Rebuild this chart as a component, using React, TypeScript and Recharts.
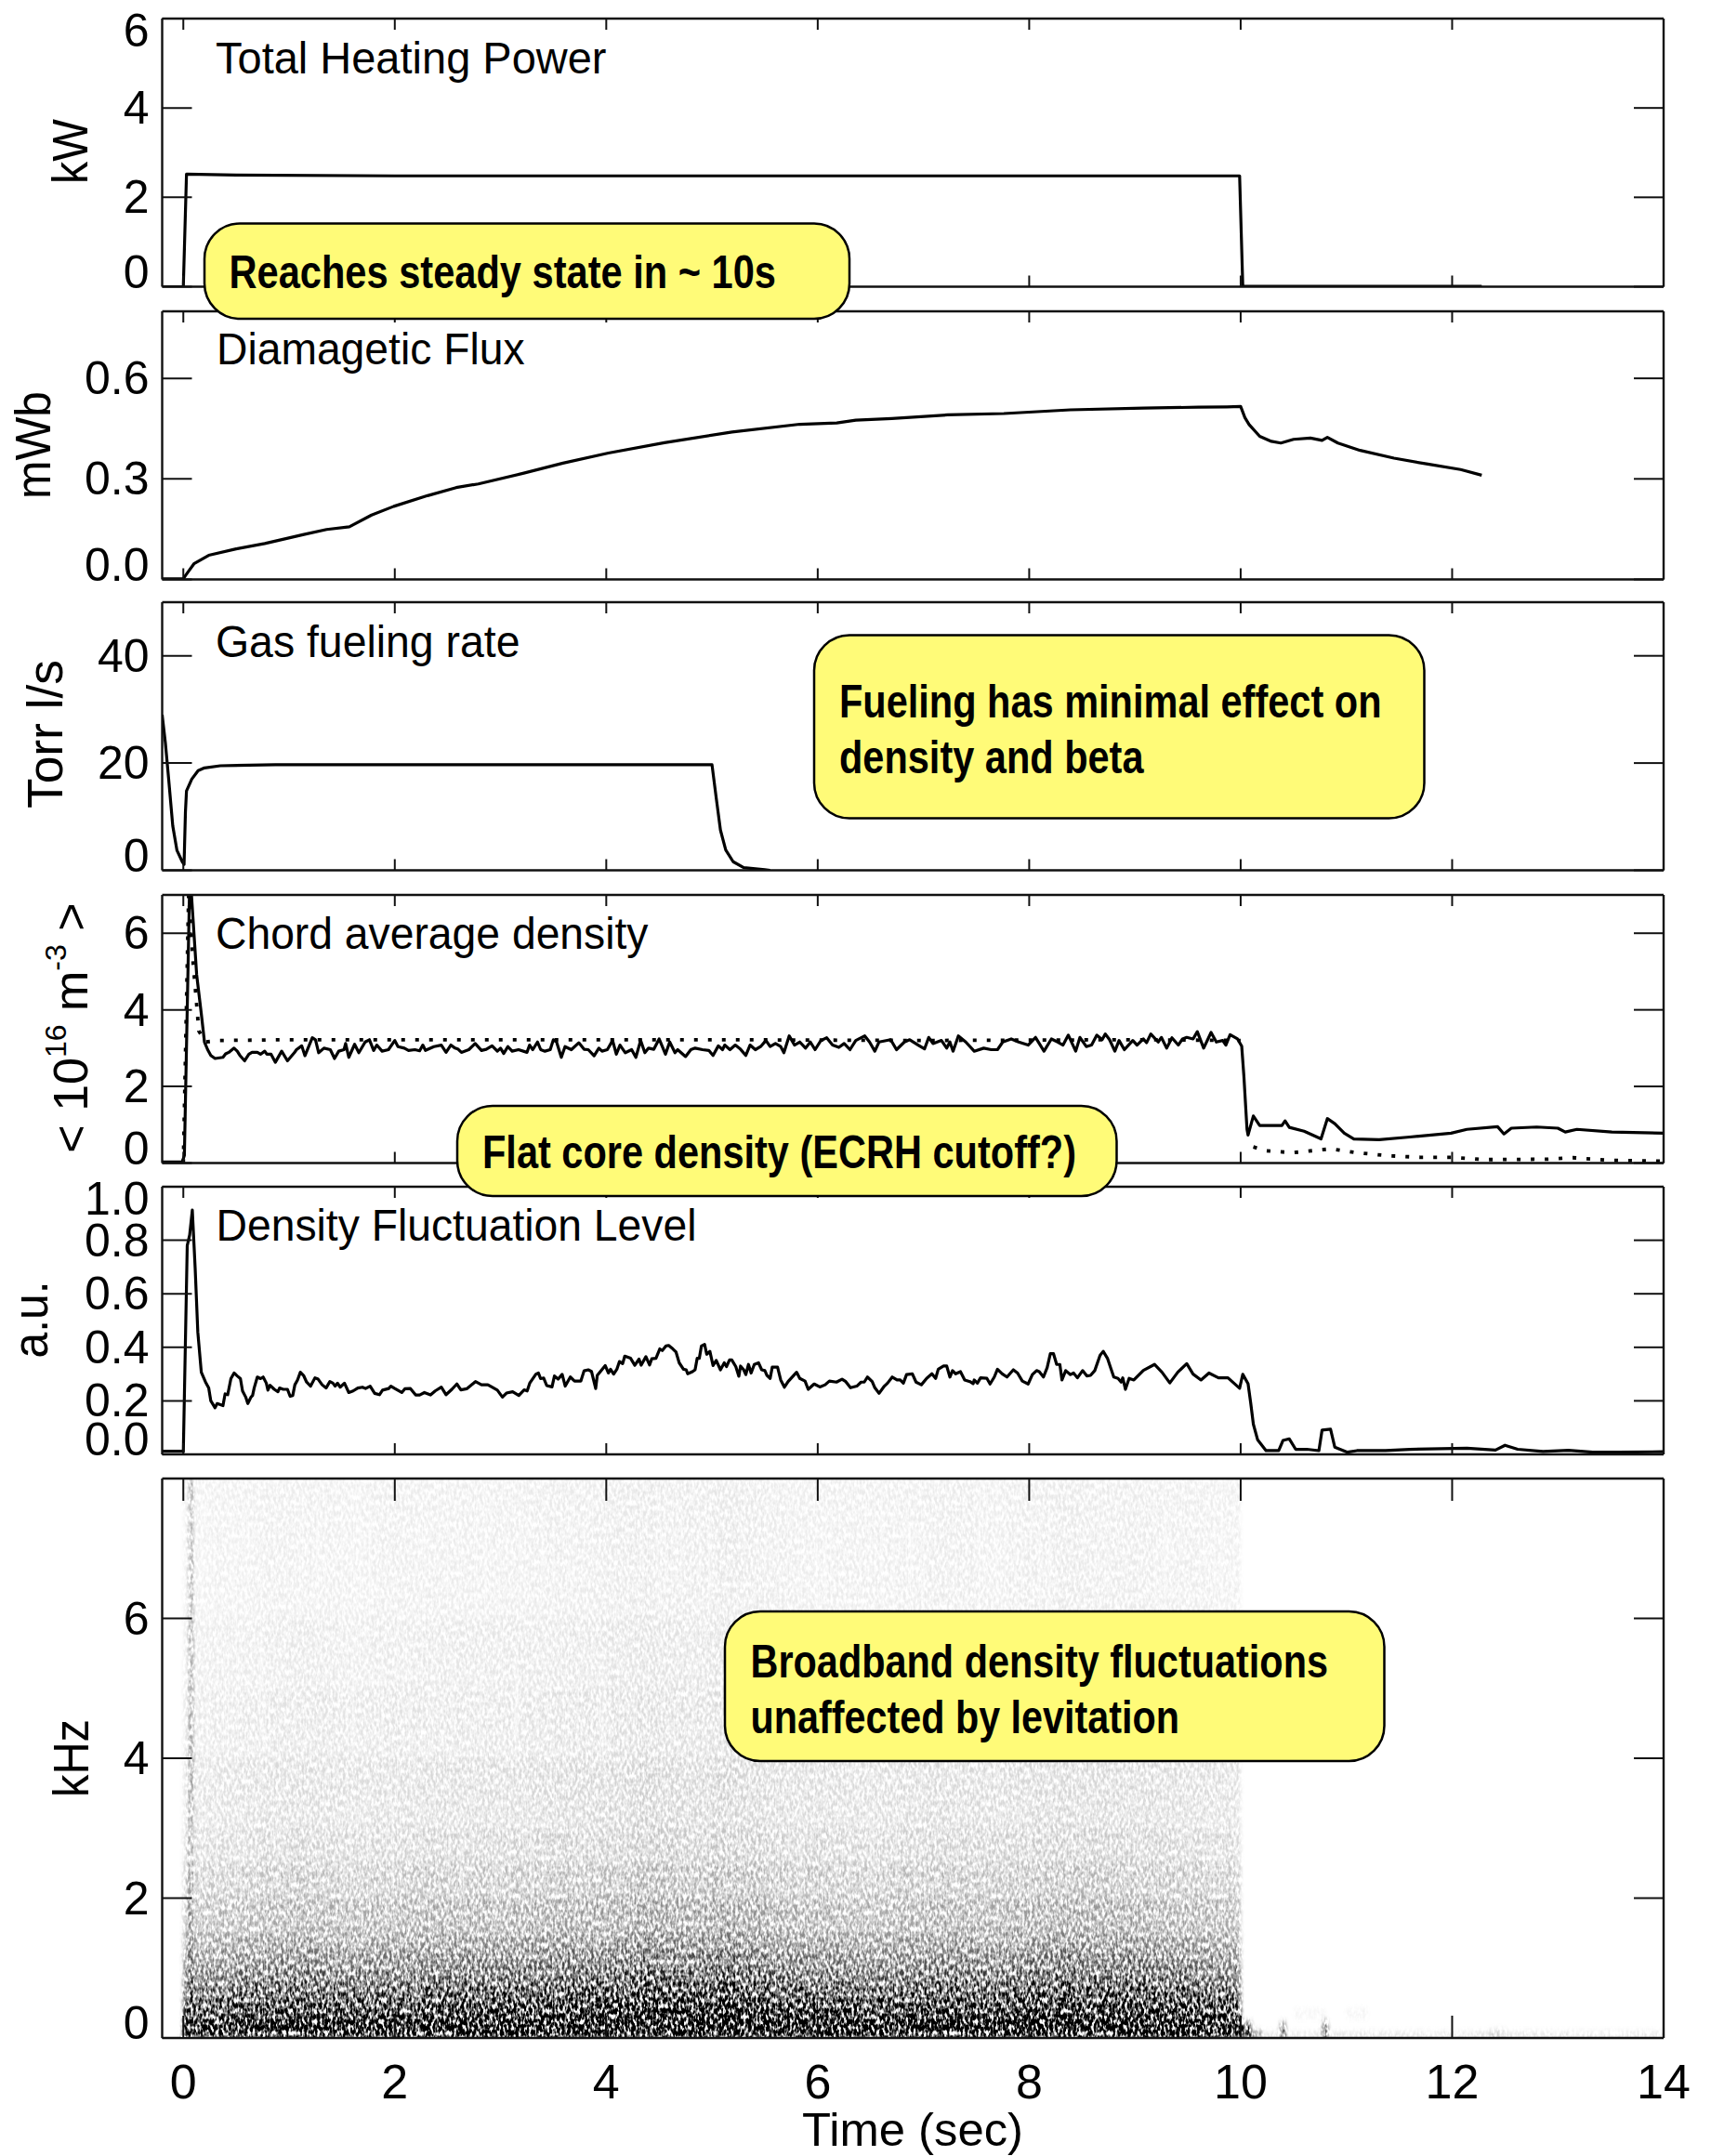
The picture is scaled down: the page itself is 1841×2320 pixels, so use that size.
import React from "react";
import { ComposedChart, Line, XAxis, YAxis, ReferenceArea } from "recharts";

const FONT = '"Liberation Sans", Arial, Helvetica, sans-serif';
const INK = "#111";

const timeTicks = [0, 2, 4, 6, 8, 10, 12, 14];
const timeDomain = [-0.2, 14];

// Total heating power (kW)
const heatingPower = [[-0.2, 0], [0, 0], [0.03, 2.52], [0.5, 2.5], [2, 2.48], [6, 2.48], [9.99, 2.48], [10.02, 0.01], [12.28, 0.01]];

// Diamagnetic flux (mWb)
const diamagneticFlux = [[-0.2, 0.002], [0, 0.002], [0.02, 0.0115], [0.1, 0.0465], [0.24, 0.072], [0.5, 0.091], [0.77, 0.107], [1.14, 0.134], [1.355, 0.149], [1.57, 0.157], [1.78, 0.192], [1.99, 0.218], [2.31, 0.25], [2.58, 0.274], [2.79, 0.285], [3.22, 0.317], [3.59, 0.347], [4.02, 0.377], [4.55, 0.408], [5.19, 0.44], [5.83, 0.463], [6.18, 0.467], [6.36, 0.475], [6.7, 0.48], [7.23, 0.491], [7.76, 0.495], [8.39, 0.506], [9.08, 0.511], [9.6, 0.514], [9.87, 0.515], [10, 0.516], [10.04, 0.483], [10.08, 0.462], [10.18, 0.427], [10.29, 0.412], [10.38, 0.407], [10.5, 0.418], [10.66, 0.422], [10.77, 0.415], [10.82, 0.424], [10.92, 0.407], [11.13, 0.385], [11.45, 0.362], [11.77, 0.344], [12.08, 0.328], [12.28, 0.311]];

// Gas fueling rate (Torr l/s)
const gasFueling = [[-0.2, 29], [-0.17, 23.8], [-0.14, 17.3], [-0.1, 8.3], [-0.06, 3.7], [-0.01, 1.6], [0.007, 1.1], [0.02, 10.9], [0.03, 14.8], [0.08, 17], [0.14, 18.6], [0.2, 19.1], [0.35, 19.5], [0.87, 19.7], [5, 19.7], [5.04, 13.5], [5.08, 7.5], [5.13, 3.8], [5.2, 1.6], [5.3, 0.5], [5.5, 0.1], [5.55, 0]];

// Chord average density, solid trace
const chordDensity = [[-0.2, 0.03], [-0.01, 0.03], [0.01, 0.2], [0.06, 7.3], [0.07, 7.3], [0.126, 4.92], [0.17, 3.9], [0.2, 3.16], [0.23, 2.96], [0.26, 2.81], [0.3, 2.73], [0.375, 2.76], [0.4, 2.85], [0.43, 2.89], [0.48, 3], [0.51, 2.92], [0.535, 2.81], [0.58, 2.67], [0.62, 2.84], [0.65, 2.89], [0.7, 2.89], [0.73, 2.84], [0.77, 2.92], [0.79, 2.84], [0.83, 2.84], [0.87, 2.63], [0.93, 2.92], [0.985, 2.67], [1.05, 2.88], [1.07, 2.96], [1.12, 3.06], [1.15, 2.8], [1.22, 3.27], [1.25, 3.22], [1.28, 2.88], [1.33, 3], [1.39, 2.96], [1.43, 2.73], [1.47, 2.92], [1.52, 2.96], [1.535, 3.12], [1.565, 2.76], [1.62, 3.1], [1.66, 2.88], [1.72, 3.16], [1.76, 3.22], [1.8, 2.94], [1.83, 3.08], [1.88, 2.92], [1.94, 2.96], [2, 3.2], [2.03, 3.04], [2.09, 3], [2.13, 2.94], [2.19, 2.96], [2.235, 2.93], [2.265, 3.08], [2.29, 2.94], [2.37, 3.04], [2.44, 3.08], [2.485, 2.89], [2.53, 3.08], [2.57, 3], [2.6, 2.97], [2.63, 2.89], [2.7, 2.96], [2.76, 3.12], [2.82, 2.94], [2.865, 2.97], [2.92, 3.06], [2.97, 2.92], [3, 3], [3.03, 2.86], [3.07, 3.04], [3.11, 2.92], [3.17, 2.96], [3.25, 2.89], [3.275, 3.08], [3.305, 2.96], [3.35, 3.16], [3.38, 2.96], [3.42, 2.92], [3.47, 2.96], [3.5, 3.22], [3.53, 3.16], [3.575, 2.76], [3.61, 3.04], [3.67, 2.96], [3.74, 3.14], [3.79, 2.97], [3.83, 2.96], [3.885, 2.8], [3.93, 3], [3.96, 2.92], [4.01, 2.96], [4.06, 3.2], [4.095, 2.84], [4.13, 3.08], [4.18, 2.88], [4.24, 2.96], [4.28, 2.76], [4.325, 3.2], [4.365, 2.88], [4.4, 3], [4.45, 2.97], [4.5, 3.24], [4.56, 2.84], [4.6, 3.16], [4.65, 2.88], [4.675, 2.96], [4.75, 2.78], [4.8, 2.96], [4.84, 3], [4.91, 2.96], [4.97, 2.94], [5.01, 2.81], [5.06, 3.06], [5.1, 2.96], [5.12, 3.08], [5.17, 2.96], [5.22, 3.08], [5.27, 2.97], [5.32, 2.81], [5.36, 3.08], [5.41, 2.96], [5.46, 3.04], [5.51, 3.2], [5.55, 3.04], [5.6, 3.12], [5.65, 3.04], [5.68, 2.88], [5.73, 3.32], [5.78, 3.08], [5.83, 3.16], [5.885, 3], [5.93, 3.16], [5.975, 2.96], [6.03, 3.2], [6.085, 3.27], [6.14, 3.08], [6.2, 3.02], [6.25, 3.12], [6.305, 2.96], [6.36, 3.2], [6.445, 3.32], [6.49, 3.16], [6.54, 2.92], [6.58, 3.16], [6.69, 3.22], [6.745, 2.96], [6.82, 3.16], [6.87, 3.22], [6.95, 3.08], [7.01, 2.98], [7.05, 3.28], [7.09, 3.12], [7.17, 3.2], [7.22, 3], [7.25, 3.16], [7.28, 2.92], [7.33, 3.32], [7.4, 3.16], [7.48, 2.92], [7.57, 3], [7.64, 2.96], [7.7, 2.96], [7.75, 3.16], [7.83, 3.24], [7.9, 3.16], [7.99, 3.08], [8.06, 3.28], [8.14, 2.92], [8.21, 3.24], [8.27, 3.16], [8.32, 3.08], [8.37, 3.34], [8.44, 2.92], [8.48, 3.28], [8.54, 3.04], [8.59, 3.08], [8.64, 3.34], [8.69, 3.22], [8.72, 3.37], [8.76, 3.22], [8.81, 2.92], [8.85, 3.2], [8.9, 2.96], [8.98, 3.2], [9.02, 3.08], [9.08, 3.24], [9.11, 3.14], [9.15, 3.37], [9.22, 3.16], [9.25, 3.28], [9.3, 3], [9.35, 3.27], [9.41, 3.08], [9.45, 3.24], [9.49, 3.28], [9.55, 3.24], [9.59, 3.43], [9.65, 3], [9.72, 3.41], [9.77, 3.16], [9.83, 3.2], [9.86, 3.08], [9.9, 3.35], [9.97, 3.24], [10.01, 3.05], [10.03, 2.29], [10.06, 0.88], [10.07, 0.73], [10.12, 1.23], [10.18, 0.98], [10.39, 0.98], [10.42, 1.1], [10.46, 0.93], [10.6, 0.83], [10.76, 0.63], [10.82, 1.16], [10.89, 1.03], [10.98, 0.78], [11.07, 0.63], [11.31, 0.61], [11.6, 0.68], [11.99, 0.78], [12.14, 0.88], [12.43, 0.95], [12.49, 0.76], [12.56, 0.91], [12.8, 0.94], [13, 0.91], [13.07, 0.81], [13.18, 0.88], [13.51, 0.81], [14, 0.78]];

// Chord average density, dotted trace (null leaves the gap at the drop)
const chordDensityDotted = [[0, 0], [0.05, 7], [0.09, 5.32], [0.135, 3.84], [0.146, 3.45], [0.21, 3.16], [0.345, 3.2], [1, 3.22], [3, 3.22], [5, 3.22], [7, 3.2], [9, 3.22], [10, 3.2], [10.05, null], [10.12, 0.42], [10.24, 0.32], [10.49, 0.27], [10.85, 0.37], [11.1, 0.27], [11.4, 0.19], [11.7, 0.15], [12, 0.15], [12.3, 0.09], [12.9, 0.1], [13.14, 0.14], [13.5, 0.07], [14, 0.05]];

// Density fluctuation level (a.u.)
const fluctuation = [[-0.2, 0.012], [-0.01, 0.012], [0, 0.01], [0.037, 0.78], [0.06, 0.82], [0.085, 0.913], [0.112, 0.696], [0.137, 0.457], [0.17, 0.307], [0.21, 0.27], [0.24, 0.248], [0.26, 0.2], [0.3, 0.174], [0.32, 0.19], [0.375, 0.182], [0.395, 0.226], [0.42, 0.223], [0.45, 0.283], [0.48, 0.304], [0.51, 0.293], [0.54, 0.283], [0.56, 0.237], [0.59, 0.214], [0.61, 0.19], [0.64, 0.214], [0.655, 0.22], [0.67, 0.248], [0.7, 0.289], [0.73, 0.283], [0.755, 0.289], [0.785, 0.266], [0.8, 0.24], [0.82, 0.258], [0.86, 0.243], [0.895, 0.234], [0.91, 0.248], [0.945, 0.243], [0.985, 0.243], [1.01, 0.217], [1.035, 0.22], [1.055, 0.26], [1.08, 0.278], [1.107, 0.307], [1.137, 0.295], [1.166, 0.27], [1.204, 0.255], [1.245, 0.286], [1.275, 0.281], [1.313, 0.26], [1.35, 0.248], [1.386, 0.272], [1.415, 0.266], [1.436, 0.255], [1.459, 0.266], [1.483, 0.251], [1.524, 0.266], [1.565, 0.231], [1.606, 0.237], [1.65, 0.248], [1.694, 0.251], [1.723, 0.246], [1.767, 0.255], [1.81, 0.228], [1.855, 0.223], [1.884, 0.24], [1.943, 0.246], [1.963, 0.255], [2, 0.246], [2.066, 0.231], [2.095, 0.245], [2.148, 0.246], [2.197, 0.222], [2.235, 0.222], [2.28, 0.231], [2.338, 0.222], [2.382, 0.237], [2.44, 0.251], [2.485, 0.223], [2.54, 0.243], [2.587, 0.263], [2.625, 0.241], [2.68, 0.245], [2.72, 0.258], [2.763, 0.272], [2.82, 0.26], [2.88, 0.26], [2.92, 0.251], [2.97, 0.24], [3.018, 0.214], [3.056, 0.229], [3.115, 0.234], [3.173, 0.22], [3.223, 0.241], [3.252, 0.237], [3.276, 0.266], [3.335, 0.3], [3.358, 0.304], [3.379, 0.283], [3.408, 0.285], [3.437, 0.257], [3.487, 0.252], [3.51, 0.293], [3.545, 0.281], [3.583, 0.299], [3.612, 0.255], [3.66, 0.289], [3.7, 0.274], [3.76, 0.274], [3.79, 0.312], [3.83, 0.316], [3.86, 0.31], [3.9, 0.246], [3.915, 0.295], [3.99, 0.332], [4.02, 0.304], [4.04, 0.318], [4.07, 0.3], [4.1, 0.318], [4.125, 0.347], [4.155, 0.339], [4.175, 0.367], [4.23, 0.359], [4.27, 0.333], [4.31, 0.356], [4.33, 0.333], [4.375, 0.365], [4.41, 0.334], [4.43, 0.357], [4.47, 0.359], [4.506, 0.394], [4.53, 0.388], [4.565, 0.405], [4.59, 0.407], [4.63, 0.394], [4.66, 0.382], [4.69, 0.342], [4.73, 0.318], [4.756, 0.316], [4.77, 0.301], [4.815, 0.309], [4.84, 0.316], [4.86, 0.359], [4.88, 0.359], [4.9, 0.405], [4.93, 0.411], [4.95, 0.374], [4.98, 0.385], [5.01, 0.332], [5.04, 0.351], [5.08, 0.316], [5.116, 0.342], [5.137, 0.328], [5.166, 0.353], [5.187, 0.353], [5.225, 0.328], [5.254, 0.292], [5.27, 0.33], [5.3, 0.316], [5.32, 0.298], [5.345, 0.336], [5.37, 0.304], [5.4, 0.336], [5.44, 0.342], [5.47, 0.316], [5.5, 0.313], [5.52, 0.295], [5.55, 0.284], [5.57, 0.326], [5.62, 0.326], [5.65, 0.278], [5.685, 0.251], [5.72, 0.272], [5.8, 0.307], [5.83, 0.284], [5.88, 0.274], [5.91, 0.243], [5.966, 0.263], [6.02, 0.252], [6.07, 0.26], [6.11, 0.274], [6.177, 0.27], [6.23, 0.281], [6.265, 0.272], [6.31, 0.249], [6.37, 0.255], [6.41, 0.27], [6.44, 0.27], [6.47, 0.289], [6.515, 0.272], [6.54, 0.249], [6.58, 0.228], [6.63, 0.255], [6.66, 0.266], [6.705, 0.289], [6.75, 0.278], [6.78, 0.278], [6.81, 0.266], [6.84, 0.298], [6.895, 0.301], [6.93, 0.27], [6.98, 0.26], [7.03, 0.284], [7.08, 0.301], [7.115, 0.284], [7.14, 0.318], [7.19, 0.33], [7.22, 0.33], [7.25, 0.289], [7.275, 0.313], [7.305, 0.301], [7.35, 0.309], [7.39, 0.278], [7.44, 0.272], [7.47, 0.264], [7.48, 0.278], [7.51, 0.266], [7.54, 0.286], [7.6, 0.284], [7.63, 0.263], [7.67, 0.289], [7.7, 0.318], [7.745, 0.301], [7.79, 0.289], [7.85, 0.316], [7.89, 0.304], [7.935, 0.274], [7.99, 0.263], [8.03, 0.298], [8.07, 0.313], [8.095, 0.309], [8.135, 0.289], [8.17, 0.324], [8.2, 0.376], [8.23, 0.376], [8.26, 0.336], [8.29, 0.336], [8.31, 0.278], [8.345, 0.313], [8.39, 0.298], [8.42, 0.304], [8.456, 0.286], [8.505, 0.313], [8.545, 0.293], [8.58, 0.295], [8.62, 0.313], [8.67, 0.37], [8.7, 0.385], [8.74, 0.359], [8.77, 0.324], [8.8, 0.289], [8.84, 0.284], [8.87, 0.27], [8.885, 0.286], [8.91, 0.243], [8.945, 0.284], [8.99, 0.278], [9.08, 0.314], [9.185, 0.336], [9.256, 0.307], [9.33, 0.267], [9.405, 0.307], [9.49, 0.339], [9.55, 0.3], [9.625, 0.278], [9.7, 0.304], [9.79, 0.286], [9.88, 0.286], [9.99, 0.247], [10.02, 0.299], [10.07, 0.264], [10.095, 0.192], [10.12, 0.113], [10.16, 0.055], [10.24, 0.014], [10.36, 0.014], [10.4, 0.052], [10.46, 0.058], [10.52, 0.019], [10.625, 0.019], [10.74, 0.014], [10.77, 0.091], [10.85, 0.094], [10.89, 0.027], [11.01, 0.008], [11.1, 0.014], [11.37, 0.014], [11.6, 0.019], [12.14, 0.023], [12.41, 0.016], [12.5, 0.034], [12.62, 0.019], [12.86, 0.011], [13.1, 0.015], [13.33, 0.008], [13.57, 0.008], [14, 0.01]];

// Spectrogram: band edges in kHz, mean darkness per band, and a darkness gain per quarter second
const freqEdges = [0, 0.05, 0.1, 0.2, 0.3, 0.45, 0.6, 0.8, 1, 1.25, 1.5, 2, 2.5, 3, 4, 5, 6, 8];
const bandDarkness = [1, 1, 1, 0.9, 0.75, 0.62, 0.5, 0.4, 0.32, 0.25, 0.19, 0.14, 0.1, 0.08, 0.06, 0.05, 0.04];
const quarterGain = [0.8, 0.85, 0.9, 0.95, 1, 0.95, 0.9, 0.95, 0.95, 1, 1, 1, 1, 1.05, 1.1, 1.1, 1.15, 1.25, 1.2, 1.15, 1.25, 1.15, 1.05, 1, 1, 0.95, 0.95, 1, 1.05, 1.05, 1, 1.05, 1.1, 1.15, 1.1, 1.1, 1.05, 1, 0.95, 0.9];
// [t start, t end, f low, f high, darkness]
const spectralExtras = [[0.06, 0.085, 0, 8, 0.3], [10, 10.1, 0, 0.2, 0.7], [10.1, 10.2, 0, 0.08, 0.4], [10.38, 10.42, 0, 0.2, 0.6], [10.78, 10.82, 0, 0.22, 0.6], [10, 14, 0, 0.05, 0.15], [12.35, 12.5, 0.04, 0.09, 0.15], [10.5, 10.8, 0.3, 0.4, 0.03], [11, 11.2, 0.3, 0.4, 0.04]];

const PLOT_LEFT = 174.5;
const PLOT_RIGHT_GAP = 51;
const CHART_W = 1841;
const TOP_GAP = 20;

const axisStroke = { stroke: INK, strokeWidth: 2.4 };

const XTick = ({ x, y, payload, len, up, label }: any) => (
  <g>
    <line x1={x} x2={x} y1={y} y2={up ? y - len : y + len} stroke={INK} strokeWidth={2} />
    {label ? (
      <text x={x} y={y + 65} textAnchor="middle" fontFamily={FONT} fontSize={52} fill="#000">
        {payload.value}
      </text>
    ) : null}
  </g>
);

const YTick = ({ x, y, payload, side, decimals, lo, hi }: any) => {
  const v = payload.value;
  const base = v === lo ? y + 1 : v === hi ? y + 30 : y + 17;
  return (
    <g>
      <line x1={x} x2={side === "left" ? x + 32 : x - 32} y1={y} y2={y} stroke={INK} strokeWidth={2} />
      {side === "left" ? (
        <text x={x - 14} y={base} textAnchor="end" fontFamily={FONT} fontSize={50} fill="#000">
          {v.toFixed(decimals)}
        </text>
      ) : null}
    </g>
  );
};

const Panel = ({ top, height, yDomain, yTicks, decimals, xTickLen = 12, bottomGap = 12, xLabels = false, children }: any) => {
  const topAxis = (
    <XAxis xAxisId="t" orientation="top" type="number" dataKey="t" domain={timeDomain} ticks={timeTicks} interval={0} height={TOP_GAP} tickSize={0} tickMargin={0} allowDataOverflow axisLine={axisStroke} tickLine={false} tick={(p: any) => <XTick {...p} len={xTickLen} />} />
  );
  const bottomAxis = (
    <XAxis xAxisId="b" orientation="bottom" type="number" dataKey="t" domain={timeDomain} ticks={timeTicks} interval={0} height={bottomGap} tickSize={0} tickMargin={0} allowDataOverflow axisLine={axisStroke} tickLine={false} tick={(p: any) => <XTick {...p} len={xTickLen} up label={xLabels} />} />
  );
  const leftAxis = (
    <YAxis yAxisId="l" orientation="left" type="number" domain={yDomain} ticks={yTicks} interval={0} width={PLOT_LEFT} tickSize={0} tickMargin={0} allowDataOverflow axisLine={axisStroke} tickLine={false} tick={(p: any) => <YTick {...p} side="left" decimals={decimals} lo={yDomain[0]} hi={yDomain[1]} />} />
  );
  const rightAxis = (
    <YAxis yAxisId="r" orientation="right" type="number" domain={yDomain} ticks={yTicks} interval={0} width={PLOT_RIGHT_GAP} tickSize={0} tickMargin={0} allowDataOverflow axisLine={axisStroke} tickLine={false} tick={(p: any) => <YTick {...p} side="right" decimals={decimals} lo={yDomain[0]} hi={yDomain[1]} />} />
  );
  return (
    <div style={{ position: "absolute", left: 0, top: top - TOP_GAP }}>
      <ComposedChart width={CHART_W} height={height + TOP_GAP + bottomGap} margin={{ top: 0, right: 0, bottom: 0, left: 0 }}>
        {topAxis}
        {bottomAxis}
        {leftAxis}
        {rightAxis}
        {children}
      </ComposedChart>
    </div>
  );
};

const trace = (pairs: any[][]) => pairs.map(([t, v]) => ({ t, v }));

const Series = (pairs: any[][], name: string, dash?: string, width = 3.2) => (
  <Line key={name} name={name} data={trace(pairs)} dataKey="v" xAxisId="b" yAxisId="l" type="linear" dot={false} activeDot={false} stroke="#000" strokeWidth={width} strokeDasharray={dash} strokeLinejoin="round" isAnimationActive={false} />
);

const heatCells = () => {
  const cells: any[] = [];
  quarterGain.forEach((g, c) => {
    bandDarkness.forEach((d, b) => {
      cells.push({ x1: c * 0.25, x2: (c + 1) * 0.25, y1: freqEdges[b], y2: freqEdges[b + 1], o: Math.min(1, d * g) });
    });
  });
  spectralExtras.forEach(([x1, x2, y1, y2, o]) => cells.push({ x1, x2, y1, y2, o }));
  return cells;
};

const Spectrogram = ({ top, height }: any) => (
  <div style={{ position: "absolute", left: 0, top, filter: "url(#speckle)" }}>
    <ComposedChart width={CHART_W} height={height} margin={{ top: 0, right: PLOT_RIGHT_GAP, bottom: 0, left: PLOT_LEFT }} data={[{ t: 0, f: 0 }]}>
      <XAxis hide type="number" dataKey="t" domain={timeDomain} />
      <YAxis hide type="number" domain={[0, 8]} />
      <Line dataKey="f" stroke="none" dot={false} isAnimationActive={false} />
      {heatCells().map((c, i) => (
        <ReferenceArea key={i} x1={c.x1} x2={c.x2} y1={c.y1} y2={c.y2} fill="#000" fillOpacity={c.o} stroke="none" ifOverflow="hidden" />
      ))}
    </ComposedChart>
  </div>
);

const T = ({ x, y, w, size = 48, children, weight, anchor = "start" }: any) => (
  <text x={x} y={y} fontFamily={FONT} fontSize={size} fontWeight={weight} textAnchor={anchor} textLength={w} lengthAdjust="spacingAndGlyphs" fill="#000">
    {children}
  </text>
);

const V = ({ x, cy, w, size = 54, children }: any) => (
  <text transform={`translate(${x},${cy}) rotate(-90)`} fontFamily={FONT} fontSize={size} textAnchor="middle" textLength={w} lengthAdjust="spacingAndGlyphs" fill="#000">
    {children}
  </text>
);

const Callout = ({ x, y, w, h, r, lines }: any) => (
  <g>
    <rect x={x} y={y} width={w} height={h} rx={r} ry={r} fill="#FFFB78" stroke="#000" strokeWidth={2.5} />
    {lines.map((l: any) => (
      <T key={l.text} x={l.x} y={l.y} w={l.w} size={50} weight={700}>
        {l.text}
      </T>
    ))}
  </g>
);

export default function App() {
  return (
    <div style={{ position: "absolute", left: 0, top: 0, width: 1841, height: 2320, background: "#fff", overflow: "hidden" }}>
      <Spectrogram top={1591} height={602} />

      <Panel top={20} height={288.5} yDomain={[0, 6]} yTicks={[0, 2, 4, 6]} decimals={0}>
        {Series(heatingPower, "Total Heating Power")}
      </Panel>
      <Panel top={334.5} height={288.5} yDomain={[0, 0.8]} yTicks={[0, 0.3, 0.6]} decimals={1}>
        {Series(diamagneticFlux, "Diamagetic Flux")}
      </Panel>
      <Panel top={648} height={288.5} yDomain={[0, 50]} yTicks={[0, 20, 40]} decimals={0}>
        {Series(gasFueling, "Gas fueling rate")}
      </Panel>
      <Panel top={963} height={288.5} yDomain={[0, 7]} yTicks={[0, 2, 4, 6]} decimals={0}>
        {Series(chordDensityDotted, "Chord average density (dotted)", "4 11", 3.8)}
        {Series(chordDensity, "Chord average density")}
      </Panel>
      <Panel top={1277} height={288} yDomain={[0, 1]} yTicks={[0, 0.2, 0.4, 0.6, 0.8, 1]} decimals={1}>
        {Series(fluctuation, "Density Fluctuation Level")}
      </Panel>
      <Panel top={1591} height={602} yDomain={[0, 8]} yTicks={[0, 2, 4, 6]} decimals={0} xTickLen={24} bottomGap={127} xLabels>
        <Line data={[{ t: 0, v: 0 }]} dataKey="v" xAxisId="b" yAxisId="l" stroke="none" dot={false} isAnimationActive={false} />
      </Panel>

      <svg width={1841} height={2320} style={{ position: "absolute", left: 0, top: 0, pointerEvents: "none" }}>
        <defs>
          <filter id="speckle" x="0" y="0" width="100%" height="100%" colorInterpolationFilters="sRGB">
            <feGaussianBlur in="SourceGraphic" stdDeviation="2 4" result="soft" />
            <feTurbulence type="fractalNoise" baseFrequency="0.36 0.17" numOctaves={2} seed={7} result="n1" />
            <feColorMatrix in="n1" type="matrix" values="0 0 0 0 0  0 0 0 0 0  0 0 0 0 0  2.8 0 0 0 -0.9" result="a1" />
            <feTurbulence type="fractalNoise" baseFrequency="0.7 0.006" numOctaves={1} seed={11} result="n2" />
            <feColorMatrix in="n2" type="matrix" values="0 0 0 0 0  0 0 0 0 0  0 0 0 0 0  1.6 0 0 0 0.2" result="a2" />
            <feComposite in="a1" in2="a2" operator="arithmetic" k1={1} k2={0} k3={0} k4={0} result="tex" />
            <feComposite in="soft" in2="tex" operator="arithmetic" k1={2} k2={0} k3={0} k4={0} />
          </filter>
        </defs>

        <T x={232} y={79} w={420.5}>Total Heating Power</T>
        <T x={233} y={391.5} w={331.5}>Diamagetic Flux</T>
        <T x={232} y={707} w={327.5}>Gas fueling rate</T>
        <T x={232} y={1020.5} w={465.5}>Chord average density</T>
        <T x={232.5} y={1334.5} w={517}>Density Fluctuation Level</T>

        <V x={94} cy={163} w={70}>kW</V>
        <V x={54} cy={479} w={116}>mWb</V>
        <V x={66.5} cy={790} w={160}>Torr l/s</V>
        <text transform="translate(94,1106) rotate(-90)" fontFamily={FONT} fontSize={52} textAnchor="middle" fill="#000">
          {"< 10"}
          <tspan fontSize={32} dy={-23}>16</tspan>
          <tspan dy={23}>{" m"}</tspan>
          <tspan fontSize={32} dy={-23}>-3</tspan>
          <tspan dy={23}>{" >"}</tspan>
        </text>
        <V x={51} cy={1420} w={83}>a.u.</V>
        <V x={94.5} cy={1892} w={84}>kHz</V>
        <T x={982} y={2309} w={238} size={50} anchor="middle">Time (sec)</T>

        <Callout x={220} y={240.5} w={694} h={102.5} r={38} lines={[{ text: "Reaches steady state in ~ 10s", x: 246.5, y: 309.5, w: 588.5 }]} />
        <Callout x={876} y={683.5} w={656.5} h={197} r={38} lines={[{ text: "Fueling has minimal effect on", x: 903, y: 772, w: 583.5 }, { text: "density and beta", x: 903, y: 831.5, w: 327.5 }]} />
        <Callout x={492} y={1190} w={709.5} h={97} r={38} lines={[{ text: "Flat core density (ECRH cutoff?)", x: 519, y: 1256.5, w: 639 }]} />
        <Callout x={780} y={1734} w={709.5} h={161} r={38} lines={[{ text: "Broadband density fluctuations", x: 807.5, y: 1804.5, w: 621.5 }, { text: "unaffected by levitation", x: 807.5, y: 1864.5, w: 461.5 }]} />
      </svg>
    </div>
  );
}
